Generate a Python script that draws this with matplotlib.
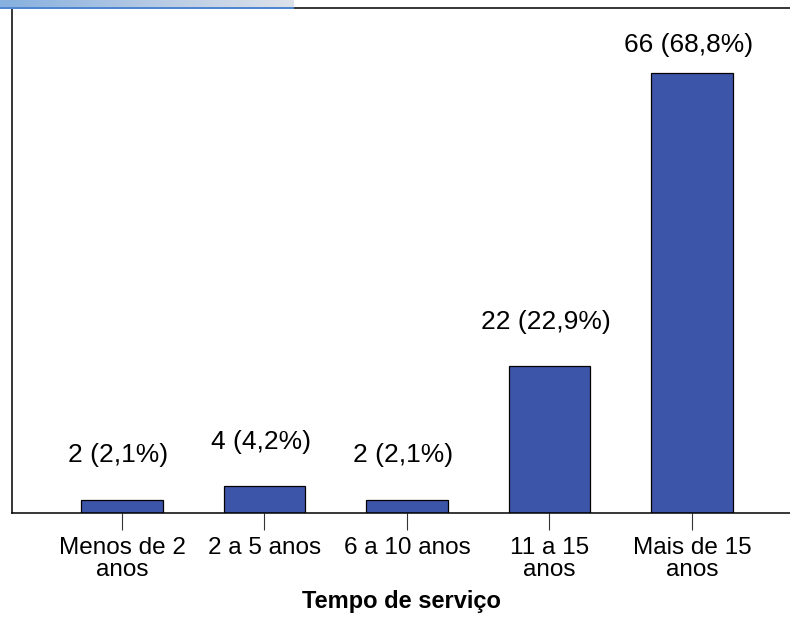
import numpy as np
import matplotlib.pyplot as plt
from matplotlib.colors import LinearSegmentedColormap

plt.rcParams['font.family'] = ['Liberation Sans', 'DejaVu Sans']

# tempo de serviço
categorias = ['Menos de 2\nanos', '2 a 5 anos', '6 a 10 anos', '11 a 15\nanos', 'Mais de 15\nanos']
contagens = [2, 4, 2, 22, 66]
percentuais = ['2,1%', '4,2%', '2,1%', '22,9%', '68,8%']

bar_color = '#3d55a8'

fig = plt.figure(figsize=(7.9, 6.19), dpi=100)
ax = fig.add_axes([12/790, 1 - 513/619, 1 - 12/790, (513 - 8)/619])

x = np.arange(len(categorias))
ax.bar(x, contagens, 0.57, color=bar_color, edgecolor='black', linewidth=0.9)

ax.set_xlim(-0.772, 4.688)
ax.set_ylim(0, 75.7)

for xi, n, p in zip(x, contagens, percentuais):
    ytxt = min(n + 4.9, 68.3)
    ax.text(xi - 0.025, ytxt, '%d (%s)' % (n, p), ha='center', va='bottom',
            fontsize=19, color='black')

ax.set_xticks(x)
ax.set_xticklabels(categorias, fontsize=17.5, linespacing=1.0)
ax.tick_params(axis='x', direction='out', length=12, width=0.8, color='#333333', pad=5)
ax.set_yticks([])
ax.set_xlabel('Tempo de serviço', fontsize=17, fontweight='bold', labelpad=7)

for s in ['left', 'bottom', 'top']:
    ax.spines[s].set_linewidth(1.1)
    ax.spines[s].set_color('black')
ax.spines['right'].set_visible(False)

# faixa em degradê no canto superior esquerdo
band = fig.add_axes([0, 1 - 7/619, 294/790, 7/619], zorder=5)
cmap = LinearSegmentedColormap.from_list('faixa', ['#86b0df', '#b4c9e4', '#dde2ea'])
band.imshow(np.linspace(0, 1, 256).reshape(1, -1), aspect='auto', cmap=cmap)
band.axis('off')
line = fig.add_axes([0, 1 - 9/619, 294/790, 2/619], zorder=6)
line.set_facecolor('#4f86cf')
line.set_xticks([])
line.set_yticks([])
for s in line.spines.values():
    s.set_visible(False)

fig.savefig('out.png', dpi=100)
